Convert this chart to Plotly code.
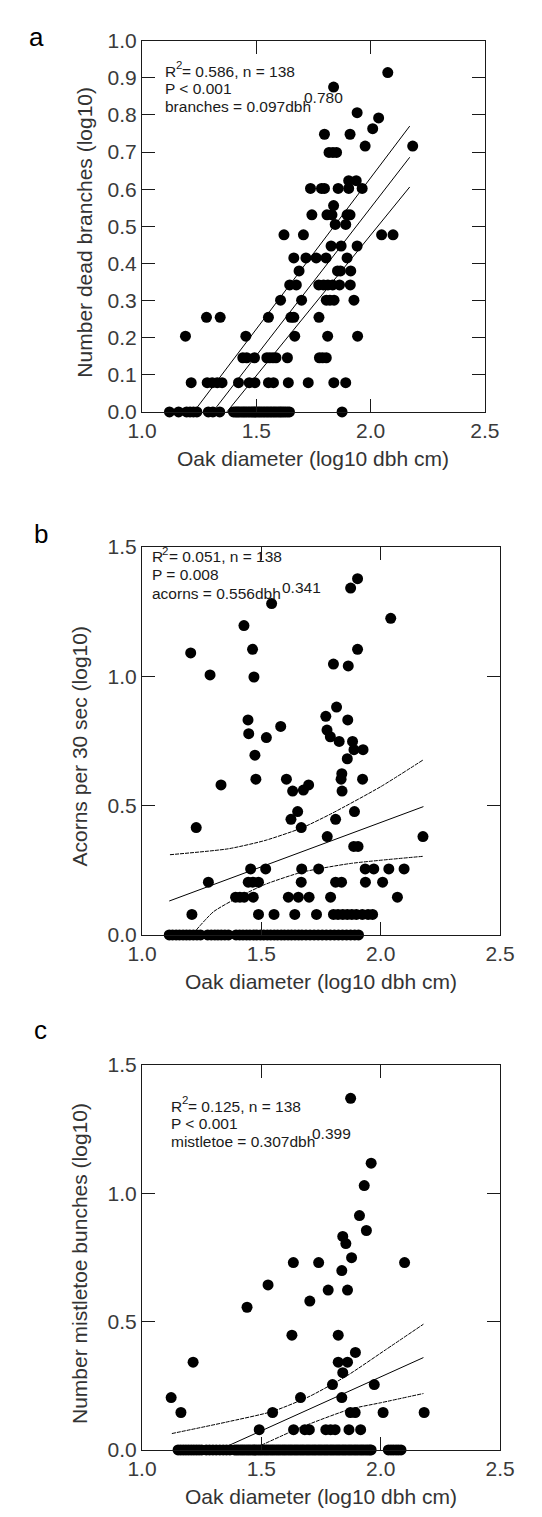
import plotly.graph_objects as go

W, H = 542, 1517
FONT = "Liberation Sans, Arial, sans-serif"

# ---------------- Panel a: dead branches ----------------
a_x = [
    # y = 0
    1.120, 1.160, 1.195, 1.210, 1.225, 1.240, 1.290, 1.310, 1.340,
    1.400, 1.408, 1.415, 1.421, 1.428, 1.436, 1.443, 1.450, 1.457, 1.465,
    1.472, 1.480, 1.486, 1.493, 1.500, 1.508, 1.515, 1.522, 1.530, 1.537,
    1.545, 1.552, 1.560, 1.567, 1.575, 1.582, 1.590, 1.598, 1.605, 1.612,
    1.620, 1.628, 1.637, 1.645, 1.875,
    # y = 0.079
    1.215, 1.285, 1.307, 1.329, 1.350, 1.422, 1.469, 1.494, 1.553, 1.575,
    1.640, 1.727, 1.839, 1.891,
    # y = 0.146
    1.441, 1.458, 1.492, 1.546, 1.559, 1.573, 1.586, 1.636, 1.776, 1.790, 1.806,
    # y = 0.204
    1.190, 1.454, 1.668, 1.812, 1.943,
    # y = 0.255
    1.282, 1.342, 1.553, 1.651, 1.664, 1.774,
    # y = 0.301
    1.606, 1.698, 1.806, 1.822, 1.840, 1.927,
    # y = 0.342
    1.646, 1.675, 1.773, 1.794, 1.813, 1.834, 1.864, 1.911,
    # y = 0.380
    1.687, 1.855, 1.868, 1.913,
    # y = 0.415
    1.664, 1.717, 1.762, 1.805, 1.897,
    # y = 0.447
    1.827, 1.871, 1.941,
    # y = 0.477
    1.621, 1.706, 2.048, 2.098,
    # y = 0.505
    1.845, 1.891,
    # y = 0.531
    1.743, 1.809, 1.831, 1.897, 1.910,
    # y = 0.556
    1.838,
    # y = 0.602
    1.737, 1.785, 1.798, 1.858, 1.904, 1.963,
    # y = 0.623
    1.904, 1.937,
    # y = 0.699
    1.818, 1.835, 1.851,
    # y = 0.716
    1.976, 2.184,
    # y = 0.748
    1.798, 1.910,
    # upper singles
    2.009, 2.035, 1.941, 1.838, 2.075,
]
a_y = (
    [0.0] * 44 + [0.079] * 14 + [0.146] * 11 + [0.204] * 5 + [0.255] * 6
    + [0.301] * 6 + [0.342] * 8 + [0.380] * 4 + [0.415] * 5 + [0.447] * 3
    + [0.477] * 4 + [0.505] * 2 + [0.531] * 5 + [0.556] * 1 + [0.602] * 6
    + [0.623] * 2 + [0.699] * 3 + [0.716] * 2 + [0.748] * 2
    + [0.763, 0.792, 0.806, 0.875, 0.914]
)
a_fit_x = [1.309, 2.171]
a_fit_y = [0.0, 0.686]
a_up_x = [1.226, 2.171]
a_up_y = [0.0, 0.770]
a_lo_x = [1.371, 2.171]
a_lo_y = [0.0, 0.606]

# ---------------- Panel b: acorns ----------------
b_x = [
    1.903, 1.874, 1.543, 2.042, 1.427, 1.204, 1.463, 1.903, 1.802, 1.864,
    1.285, 1.469, 1.815, 1.770, 1.862, 1.444, 1.581, 1.447, 1.521, 1.775,
    1.789, 1.826, 1.882, 1.888, 1.926, 1.473, 1.860, 1.837, 1.834, 1.924,
    1.477, 1.605, 1.331, 1.631, 1.838, 1.676, 1.698, 1.652, 1.890, 1.624,
    1.811, 1.227, 1.667, 1.776, 2.177, 1.887, 1.905,
    # y = 0.255
    1.455, 1.518, 1.669, 1.740, 1.935, 1.971, 2.034, 2.098,
    # y = 0.204
    1.278, 1.445, 1.464, 1.488, 1.667, 1.811, 1.836, 1.936, 2.008,
    # y = 0.146
    1.392, 1.410, 1.428, 1.466, 1.613, 1.655, 1.700, 1.790, 2.070,
    # y = 0.079
    1.209, 1.488, 1.553, 1.640, 1.731, 1.802, 1.821, 1.841, 1.860, 1.879,
    1.898, 1.923, 1.947, 1.966,
    # y = 0
    1.114, 1.128, 1.143, 1.157, 1.172, 1.186, 1.200, 1.215, 1.230, 1.245,
    1.275, 1.290, 1.305, 1.318, 1.332, 1.347, 1.362,
    1.394, 1.409, 1.423, 1.438, 1.452, 1.467, 1.481, 1.496, 1.510, 1.525,
    1.539, 1.554, 1.568, 1.583, 1.597, 1.612, 1.626, 1.641, 1.656,
    1.670, 1.687, 1.704, 1.721, 1.738, 1.755, 1.772, 1.789, 1.806, 1.823,
    1.840, 1.857, 1.874, 1.891, 1.907,
]
b_y = [
    1.377, 1.341, 1.281, 1.224, 1.196, 1.090, 1.104, 1.104, 1.047, 1.040,
    1.005, 0.997, 0.881, 0.845, 0.831, 0.831, 0.806, 0.778, 0.763, 0.792,
    0.766, 0.748, 0.748, 0.716, 0.716, 0.695, 0.681, 0.623, 0.602, 0.602,
    0.602, 0.602, 0.580, 0.556, 0.556, 0.560, 0.580, 0.477, 0.477, 0.447,
    0.447, 0.415, 0.415, 0.380, 0.380, 0.342, 0.342,
] + [0.255] * 8 + [0.204] * 9 + [0.146] * 9 + [0.079] * 14 + [0.0] * 51
b_fit_x = [1.114, 2.179]
b_fit_y = [0.131, 0.496]
b_up_x = [1.117, 1.362, 1.515, 1.668, 1.796, 2.000, 2.177]
b_up_y = [0.310, 0.333, 0.365, 0.413, 0.470, 0.573, 0.676]
b_lo_x = [1.228, 1.300, 1.413, 1.515, 1.668, 1.872, 2.179]
b_lo_y = [0.020, 0.090, 0.150, 0.195, 0.242, 0.276, 0.304]

# ---------------- Panel c: mistletoe ----------------
c_x = [
    1.874, 1.960, 1.931, 1.911, 1.940, 1.841, 1.854, 1.878, 1.634, 1.740,
    2.100, 1.837, 1.528, 1.780, 1.861, 1.703, 1.440, 1.628, 1.822, 1.894,
    1.214, 1.822, 1.861, 1.841, 1.798, 1.973, 1.122, 1.664, 1.837,
    1.163, 1.547, 1.873, 1.893, 2.010, 2.182,
    # y = 0.079
    1.491, 1.635, 1.682, 1.701, 1.770, 1.790, 1.809, 1.867, 1.916,
    # y = 0
    1.151, 1.162, 1.173, 1.184, 1.195, 1.206, 1.217, 1.228, 1.239, 1.250,
    1.269, 1.283, 1.297, 1.311, 1.326, 1.340, 1.354, 1.368,
    1.388, 1.396, 1.404, 1.413, 1.421, 1.429, 1.438, 1.446, 1.454, 1.463,
    1.471, 1.479, 1.488, 1.496, 1.504, 1.513, 1.521, 1.529, 1.538, 1.546,
    1.554, 1.563, 1.571, 1.579, 1.588, 1.596, 1.604, 1.613, 1.621, 1.629,
    1.638, 1.646, 1.654, 1.663, 1.671, 1.679, 1.688, 1.696, 1.704, 1.713,
    1.721, 1.729, 1.738, 1.746, 1.754, 1.763, 1.771, 1.779, 1.788, 1.796,
    1.804, 1.813, 1.821, 1.829, 1.838, 1.846, 1.854, 1.863, 1.871, 1.879,
    1.888, 1.896, 1.904, 1.913, 1.921, 1.929, 1.938, 1.946, 1.954, 1.960,
    2.032, 2.043, 2.053, 2.064, 2.074, 2.085,
]
c_y = [
    1.370, 1.117, 1.030, 0.913, 0.855, 0.832, 0.804, 0.749, 0.730, 0.730,
    0.730, 0.699, 0.643, 0.623, 0.623, 0.580, 0.556, 0.447, 0.447, 0.380,
    0.342, 0.342, 0.342, 0.301, 0.255, 0.255, 0.204, 0.204, 0.204,
    0.146, 0.146, 0.146, 0.146, 0.146, 0.146,
] + [0.079] * 9 + [0.0] * 94
c_fit_x = [1.322, 2.179]
c_fit_y = [0.0, 0.360]
c_up_x = [1.125, 1.350, 1.546, 1.700, 1.860, 2.020, 2.179]
c_up_y = [0.064, 0.108, 0.150, 0.208, 0.290, 0.390, 0.490]
c_lo_x = [1.480, 1.668, 1.872, 2.000, 2.179]
c_lo_y = [0.010, 0.089, 0.159, 0.184, 0.220]

x_ticks = [1.0, 1.5, 2.0, 2.5]
x_title = "Oak diameter (log10 dbh cm)"
y_titles = ["Number dead branches (log10)", "Acorns per 30 sec (log10)",
            "Number mistletoe bunches (log10)"]
panel_labels = ["a", "b", "c"]
stat_r2 = ["= 0.586, n = 138", "= 0.051, n = 138", "= 0.125, n = 138"]
stat_p = ["P < 0.001", "P = 0.008", "P < 0.001"]
stat_eq = ["branches = 0.097dbh", "acorns = 0.556dbh", "mistletoe = 0.307dbh"]
stat_exp = ["0.780", "0.341", "0.399"]


# ---------------- layout geometry (pixels) ----------------
def fx(px):
    return px / W


def fy(py):
    return 1 - py / H


panels = [
    dict(x=a_x, y=a_y, fits=[(a_fit_x, a_fit_y, "solid"), (a_up_x, a_up_y, "solid"), (a_lo_x, a_lo_y, "solid")],
         box=(126, 489, 21, 398), yrange=[0, 1.0], dtick=0.1, ytx=65, lab=(14, 17),
         txt=(148, [52, 70, 88], (295, 79))),
    dict(x=b_x, y=b_y, fits=[(b_fit_x, b_fit_y, "solid"), (b_up_x, b_up_y, "4px,1px"), (b_lo_x, b_lo_y, "4px,1px")],
         box=(126, 505, 535, 929), yrange=[0, 1.5], dtick=0.5, ytx=60, lab=(19, 522),
         txt=(134, [545, 563, 582], (272, 576))),
    dict(x=c_x, y=c_y, fits=[(c_fit_x, c_fit_y, "solid"), (c_up_x, c_up_y, "4px,1px"), (c_lo_x, c_lo_y, "4px,1px")],
         box=(126, 505, 1061, 1452), yrange=[0, 1.5], dtick=0.5, ytx=60, lab=(18, 1026),
         txt=(155, [1103, 1120, 1139], (304, 1131))),
]

fig = go.Figure()
annotations = []
layout = dict(
    width=W, height=H, margin=dict(l=0, r=0, t=0, b=0),
    paper_bgcolor="white", plot_bgcolor="white", showlegend=False,
    font=dict(family=FONT, color="#333333", size=15),
)


def note(text, px, py, size, color="#1a1a1a", anchor="left", angle=0):
    annotations.append(dict(text=text, xref="paper", yref="paper", x=fx(px), y=fy(py),
                            showarrow=False, xanchor=anchor, yanchor="middle",
                            textangle=angle, font=dict(family=FONT, size=size, color=color)))


for i, p in enumerate(panels, start=1):
    xs = "" if i == 1 else str(i)
    x0, x1, y0, y1 = p["box"]
    fig.add_trace(go.Scatter(
        x=p["x"], y=p["y"], mode="markers", xaxis="x" + xs, yaxis="y" + xs,
        marker=dict(size=11, color="black", line=dict(width=0)), cliponaxis=False,
    ))
    for fxs, fys, dash in p["fits"]:
        fig.add_trace(go.Scatter(
            x=fxs, y=fys, mode="lines", xaxis="x" + xs, yaxis="y" + xs,
            line=dict(color="black", width=1, dash=dash, shape="spline", smoothing=0.6),
        ))
    common = dict(showline=True, linecolor="#1a1a1a", linewidth=1, mirror="allticks",
                  ticks="inside", ticklen=13, tickwidth=1, tickcolor="#1a1a1a",
                  showgrid=False, zeroline=False,
                  tickfont=dict(family=FONT, size=21, color="#3a3a3a"))
    layout["xaxis" + xs] = dict(common, domain=[fx(x0), fx(x1)], range=[1.0, 2.5],
                                tickvals=x_ticks, ticktext=[f"{v:.1f}" for v in x_ticks],
                                anchor="y" + xs)
    layout["yaxis" + xs] = dict(common, domain=[fy(y1), fy(y0)], range=p["yrange"],
                                dtick=p["dtick"], tick0=0, tickformat=".1f",
                                anchor="x" + xs)
    # axis titles and panel letter
    note(x_title, (x0 + x1) / 2, y1 + 47, 21, "#333333", "center")
    note(y_titles[i - 1], p["ytx"], (y0 + y1) / 2 + 6, 21, "#333333", "center", -90)
    note(panel_labels[i - 1], p["lab"][0], p["lab"][1], 26, "black", "center")
    # statistics text
    tx, tys, (ex, ey) = p["txt"]
    note("R", tx, tys[0], 15.5)
    note("2", tx + 11.5, tys[0] - 6, 11.5)
    note(stat_r2[i - 1], tx + 18, tys[0], 15.5)
    note(stat_p[i - 1], tx, tys[1], 15.5)
    note(stat_eq[i - 1], tx, tys[2], 15.5)
    note(stat_exp[i - 1], ex, ey, 15.5)

layout["annotations"] = annotations
fig.update_layout(**layout)
fig.write_html("out.html")
